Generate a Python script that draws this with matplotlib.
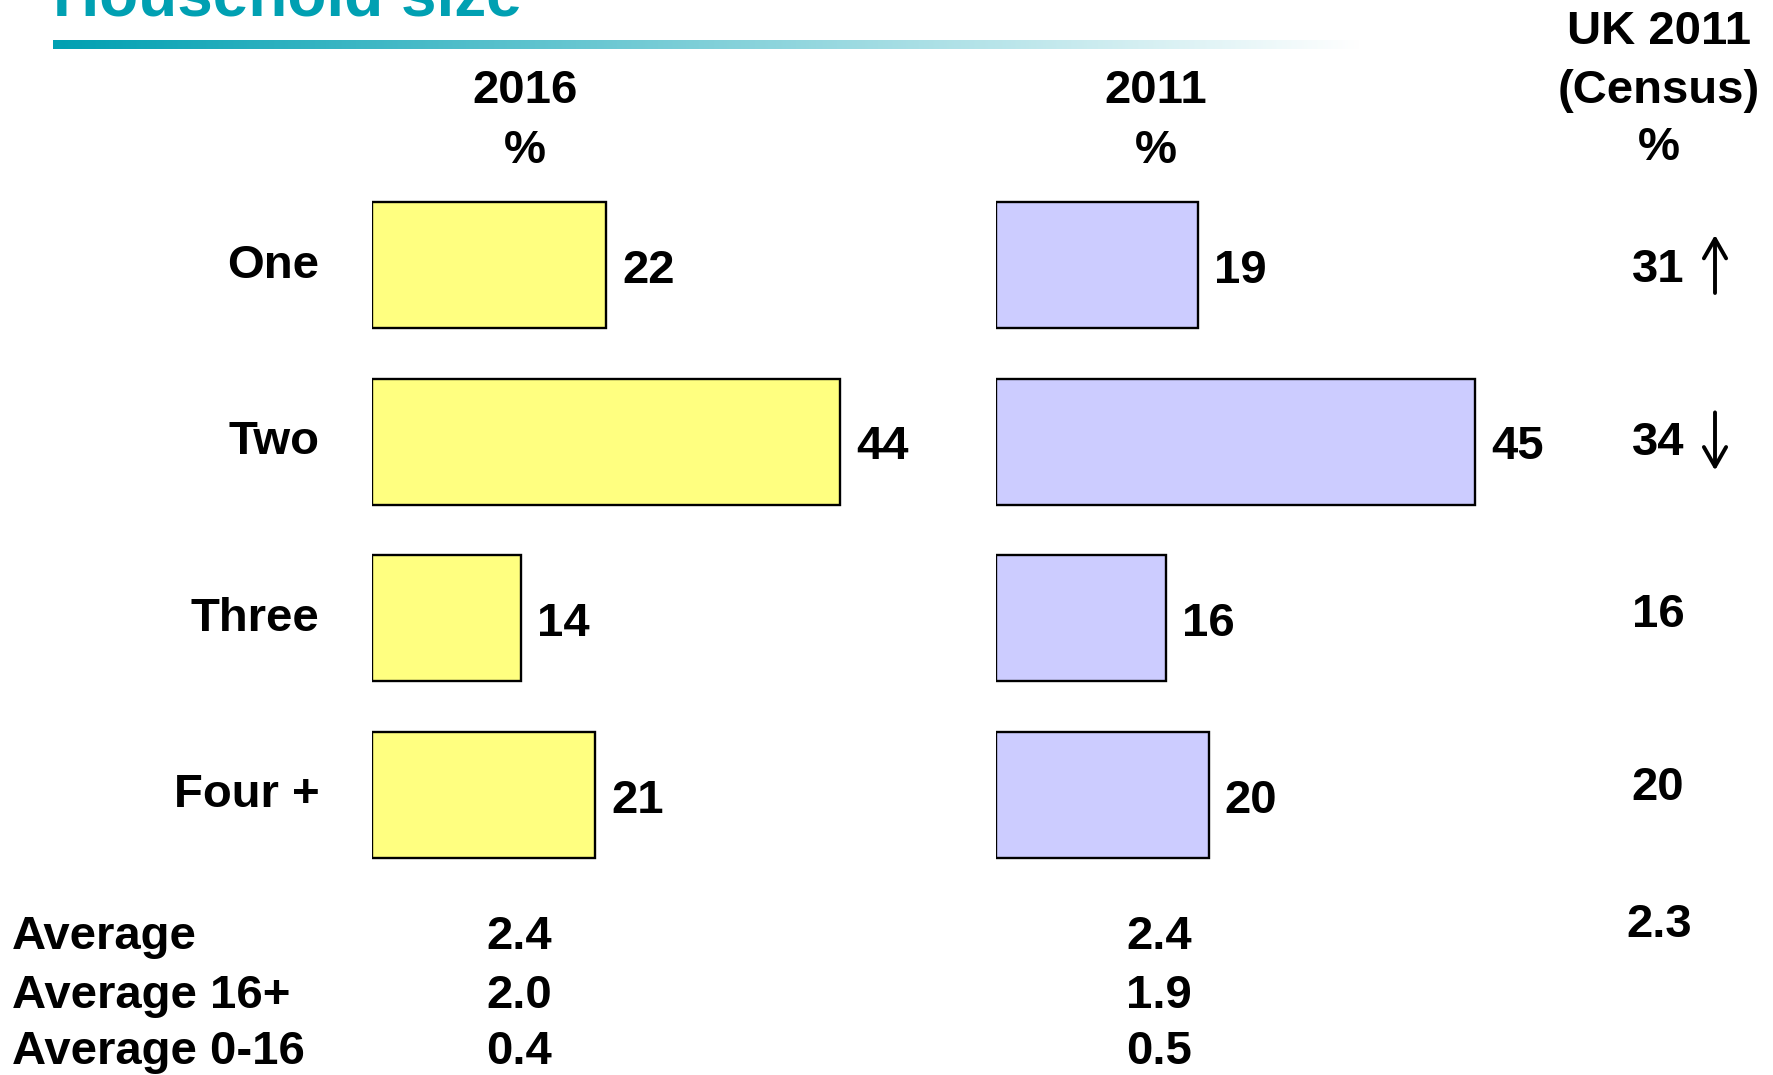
import numpy as np
import matplotlib
matplotlib.use("Agg")
import matplotlib.pyplot as plt
from matplotlib.transforms import blended_transform_factory, ScaledTranslation
from matplotlib.patches import FancyArrowPatch

plt.rcParams['font.family'] = ['Liberation Sans', 'DejaVu Sans']
plt.rcParams['font.weight'] = 'bold'

# ---------------- data ----------------
title = "Household size"
categories = ["One", "Two", "Three", "Four +"]
pct_2016 = [22, 44, 14, 21]
pct_2011 = [19, 45, 16, 20]
uk_2011 = ["31", "34", "16", "20"]
uk_trend = ["up", "down", None, None]
avg_labels = ["Average", "Average 16+", "Average 0-16"]
avg_2016 = ["2.4", "2.0", "0.4"]
avg_2011 = ["2.4", "1.9", "0.5"]
uk_avg = "2.3"
col_headers = [("2016", "%"), ("2011", "%"), ("UK 2011", "(Census)", "%")]

# ---------------- layout ----------------
W, H = 1773, 1075
fig = plt.figure(figsize=(W / 100, H / 100), dpi=100)
fig.patch.set_facecolor("white")

def fx(x):
    return x / W

def fy(y):
    return 1 - y / H

TEAL = "#00A0B2"
YELLOW = "#FFFF80"
LAVENDER = "#CCCCFF"
FS = 34
DY = 3.4  # text baseline correction (px)

# title (cut off at top as in the original)
fig.text(fx(53), fy(16), title, color=TEAL, fontsize=46, fontweight='bold',
         ha='left', va='baseline')

# gradient rule under title
gax = fig.add_axes([fx(53), fy(48.6), (1360 - 53) / W, 9 / H])
grad = np.linspace(0, 1, 512)
c0 = np.array([0, 160, 178]) / 255.0
img = c0[None, :] * (1 - grad[:, None]) + np.ones(3)[None, :] * grad[:, None]
gax.imshow(img[None, :, :], aspect='auto', extent=[0, 1, 0, 1])
gax.set_axis_off()

# bar axes
px_per_unit = 10.64
xmax = 50
row_top, row_bot = 176.7, 883.3
ax_h = (row_bot - row_top) / H
ax_w = xmax * px_per_unit / W
ax1 = fig.add_axes([fx(372), fy(row_bot), ax_w, ax_h])
ax2 = fig.add_axes([fx(996), fy(row_bot), ax_w, ax_h])

ypos = np.arange(len(categories))
bar_h = 0.713
for ax, vals, col in [(ax1, pct_2016, YELLOW), (ax2, pct_2011, LAVENDER)]:
    ax.barh(ypos, vals, height=bar_h, color=col, edgecolor='black', linewidth=1.7)
    ax.set_xlim(0, xmax)
    ax.set_ylim(len(categories) - 0.5, -0.5)
    for s in ax.spines.values():
        s.set_visible(False)
    ax.set_xticks([])
    ax.tick_params(axis='y', length=0)
    ax.patch.set_alpha(0)
    for i, v in enumerate(vals):
        ax.annotate(str(v), xy=(v, i), xytext=(11.5, -4), textcoords='offset points',
                    ha='left', va='center', fontsize=FS, fontweight='bold')

ax1.set_yticks(ypos)
ax1.set_yticklabels(categories, fontsize=FS, fontweight='bold')
ax1.tick_params(axis='y', pad=38)
shift = ScaledTranslation(0, 4.5 / 100, fig.dpi_scale_trans)
for lab in ax1.get_yticklabels():
    lab.set_transform(lab.get_transform() + shift)
ax2.set_yticks([])

# column headers
for cx, lines, ys in [(525, col_headers[0], [88, 148]),
                      (1156, col_headers[1], [88, 148]),
                      (1659, col_headers[2], [29, 88, 145])]:
    for t, yy in zip(lines, ys):
        fig.text(fx(cx), fy(yy + DY), t, ha='center', va='center', fontsize=FS,
                 fontweight='bold')

# UK census column (own regular row spacing)
uk_y0, uk_step = 267, 172.4
for i, (v, tnd) in enumerate(zip(uk_2011, uk_trend)):
    yy = uk_y0 + i * uk_step
    fig.text(fx(1658), fy(yy + DY), v, ha='center', va='center',
             fontsize=FS, fontweight='bold')
    if tnd is not None:
        half = 29
        if tnd == "up":
            p0, p1 = (fx(1715), fy(yy + half - 3)), (fx(1715), fy(yy - half - 3))
        else:
            p0, p1 = (fx(1715), fy(yy - half + 2)), (fx(1715), fy(yy + half + 2))
        arr = FancyArrowPatch(p0, p1, transform=fig.transFigure,
                              arrowstyle='->,head_length=14,head_width=8',
                              mutation_scale=1, lw=2.8, color='black',
                              shrinkA=0, shrinkB=0)
        fig.add_artist(arr)

# averages block
avg_y = [934, 993, 1049]
for lab, a16, a11, yy in zip(avg_labels, avg_2016, avg_2011, avg_y):
    fig.text(fx(12), fy(yy + DY), lab, ha='left', va='center', fontsize=FS, fontweight='bold')
    fig.text(fx(519), fy(yy + DY), a16, ha='center', va='center', fontsize=FS, fontweight='bold')
    fig.text(fx(1159), fy(yy + DY), a11, ha='center', va='center', fontsize=FS, fontweight='bold')
fig.text(fx(1659), fy(921.5 + DY), uk_avg, ha='center', va='center', fontsize=FS,
         fontweight='bold')

fig.savefig("out.png", dpi=100, facecolor='white')
